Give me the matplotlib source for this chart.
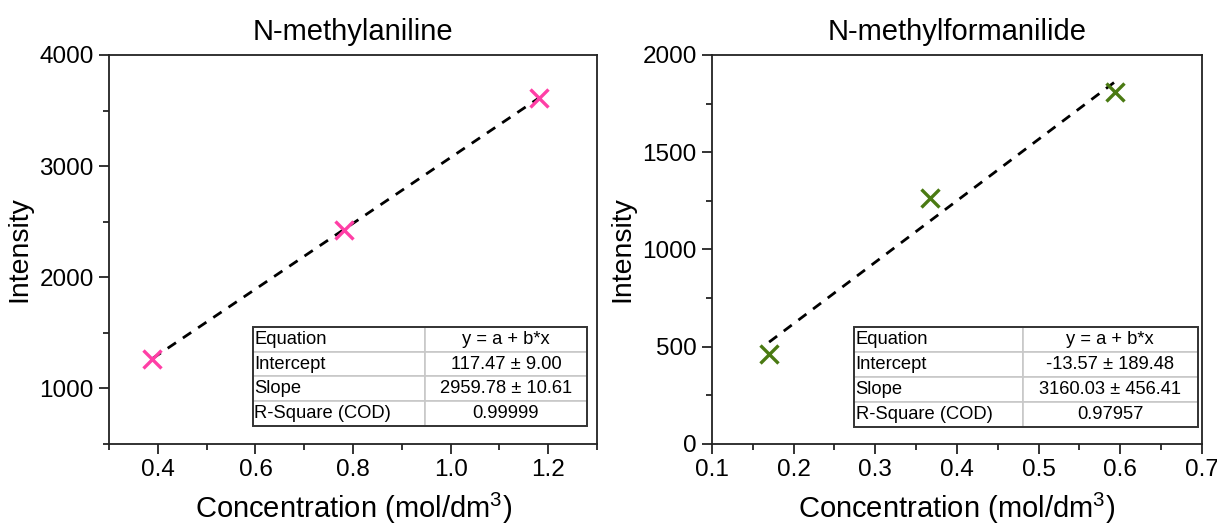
import numpy as np
import matplotlib
matplotlib.use('Agg')
import matplotlib.pyplot as plt
from matplotlib.ticker import MultipleLocator
from matplotlib.patches import Rectangle

plt.rcParams['font.family'] = ['Liberation Sans', 'DejaVu Sans']
plt.rcParams['mathtext.fontset'] = 'custom'
plt.rcParams['mathtext.rm'] = 'Liberation Sans'
plt.rcParams['mathtext.it'] = 'Liberation Sans:italic'

# Calibration data
conc_nma = [0.389, 0.781, 1.181]
int_nma = [1265, 2422, 3614]
fit_nma = (117.47, 2959.78)
table_nma = [["Equation", "y = a + b*x"],
             ["Intercept", "117.47 ± 9.00"],
             ["Slope", "2959.78 ± 10.61"],
             ["R-Square (COD)", "0.99999"]]

conc_nmf = [0.170, 0.367, 0.594]
int_nmf = [464, 1263, 1812]
fit_nmf = (-13.57, 3160.03)
table_nmf = [["Equation", "y = a + b*x"],
             ["Intercept", "-13.57 ± 189.48"],
             ["Slope", "3160.03 ± 456.41"],
             ["R-Square (COD)", "0.97957"]]

fig = plt.figure(figsize=(12.17, 5.26), dpi=100)
ax1 = fig.add_axes([0.0896, 0.156, 0.401, 0.7395])
ax2 = fig.add_axes([0.585, 0.156, 0.4026, 0.7395])


def draw_panel(ax, x, y, fit, color, title, rows, bbox, colw):
    a, b = fit
    xf = np.array([min(x), max(x)])
    ax.plot(xf, a + b * xf, color='black', lw=2, dashes=(3.6, 3.0), zorder=2)
    ax.plot(x, y, linestyle='none', marker='x', markersize=13,
            markeredgewidth=2.4, color=color, zorder=3)

    ax.set_title(title, fontsize=21, pad=11)
    ax.set_xlabel('Concentration (mol/dm$^3$)', fontsize=21, labelpad=7)
    ax.set_ylabel('Intensity', fontsize=20.5, labelpad=5)
    ax.tick_params(which='both', direction='out', labelsize=17.5,
                   top=False, right=False, color='#111111')
    ax.tick_params(which='major', length=7, width=1.2, pad=4)
    ax.tick_params(which='minor', length=4, width=1.2)
    for sp in ax.spines.values():
        sp.set_linewidth(1.3)
        sp.set_color('#222222')

    tb = ax.table(cellText=rows, bbox=bbox, colWidths=colw, zorder=4)
    tb.auto_set_font_size(False)
    for (r, c), cell in tb.get_celld().items():
        cell.set_edgecolor('#c8c8c8')
        cell.set_linewidth(1.2)
        cell.set_facecolor('white')
        txt = cell.get_text()
        txt.set_fontsize(13.2)
        if c == 0:
            txt.set_ha('left')
            cell.PAD = 0.01
        else:
            txt.set_ha('center')
    ax.add_patch(Rectangle((bbox[0], bbox[1]), bbox[2], bbox[3],
                           transform=ax.transAxes, fill=False,
                           edgecolor='#333333', lw=1.4, zorder=5))


draw_panel(ax1, conc_nma, int_nma, fit_nma, '#ff3fa6', 'N-methylaniline',
           table_nma, [0.2945, 0.0463, 0.6845, 0.2545], [0.516, 0.484])
ax1.set_xlim(0.3, 1.3)
ax1.set_ylim(500, 4000)
ax1.xaxis.set_major_locator(MultipleLocator(0.2))
ax1.xaxis.set_minor_locator(MultipleLocator(0.1))
ax1.yaxis.set_major_locator(MultipleLocator(1000))
ax1.yaxis.set_minor_locator(MultipleLocator(500))
ax1.set_xticks([0.4, 0.6, 0.8, 1.0, 1.2])
ax1.set_xticklabels(['0.4', '0.6', '0.8', '1.0', '1.2'])
ax1.set_yticks([1000, 2000, 3000, 4000])

draw_panel(ax2, conc_nmf, int_nmf, fit_nmf, '#4a7a12', 'N-methylformanilide',
           table_nmf, [0.2898, 0.0437, 0.702, 0.2571], [0.491, 0.509])
ax2.set_xlim(0.1, 0.7)
ax2.set_ylim(0, 2000)
ax2.xaxis.set_major_locator(MultipleLocator(0.1))
ax2.xaxis.set_minor_locator(MultipleLocator(0.05))
ax2.yaxis.set_major_locator(MultipleLocator(500))
ax2.yaxis.set_minor_locator(MultipleLocator(250))

fig.savefig('out.png', dpi=100)
